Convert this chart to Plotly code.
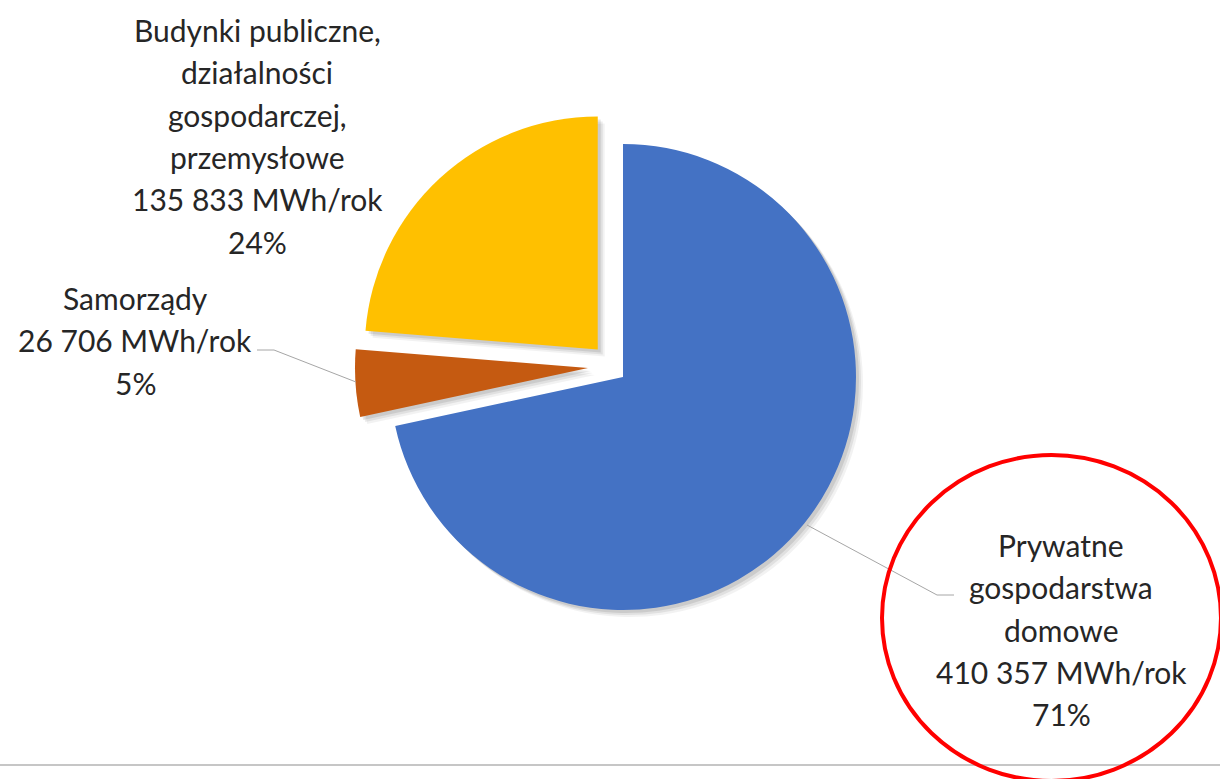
import plotly.graph_objects as go

W, H = 1220, 779

# ---- data ----
categories = ["Prywatne gospodarstwa domowe", "Samorządy",
              "Budynki publiczne, działalności gospodarczej, przemysłowe"]
values = [410357, 26706, 135833]
percent_labels = ["71%", "5%", "24%"]
value_labels = ["410 357 MWh/rok", "26 706 MWh/rok", "135 833 MWh/rok"]
name_lines = [["Prywatne", "gospodarstwa", "domowe"],
              ["Samorządy"],
              ["Budynki publiczne,", "działalności", "gospodarczej,", "przemysłowe"]]
colors = ["#4472C4", "#C55A11", "#FFC000"]
pulls = [0, 0, 0.16]

# ---- layout helpers (pixel -> paper) ----
def px(x):
    return x / W

def py(y):
    return (H - y) / H

R = 233
CX, CY = 623, 377
half = R * (1 + max(pulls))
ORANGE_SHIFT = (-35, -9)   # exploded "Samorządy" slice offset (px)

def dom(dx=0, dy=0):
    return dict(x=[px(CX - half + dx), px(CX + half + dx)],
                y=[py(CY + half + dy), py(CY - half + dy)])

def pie(cols, dx, dy, hover=True):
    return go.Pie(
        labels=categories, values=values, sort=False, direction="clockwise",
        rotation=0, pull=pulls, textinfo="none",
        hoverinfo=None if hover else "skip",
        marker=dict(colors=cols, line=dict(width=0)),
        domain=dom(dx, dy), showlegend=False)

T = "rgba(0,0,0,0)"
fig = go.Figure()

# soft drop shadow layers
for off, op in [(7, 0.05), (5, 0.07), (3, 0.09)]:
    sc = f"rgba(0,0,0,{op})"
    fig.add_trace(pie([sc, T, sc], off, off, hover=False))
    fig.add_trace(pie([T, sc, T], ORANGE_SHIFT[0] + off, ORANGE_SHIFT[1] + off, hover=False))

# main slices
fig.add_trace(pie([colors[0], T, colors[2]], 0, 0))
fig.add_trace(pie([T, colors[1], T], ORANGE_SHIFT[0], ORANGE_SHIFT[1]))

FONT = dict(family="Lato, Calibri, sans-serif", size=30, color="#262626")
LS = 42.3

label_pos = [(1061, 545), (135, 298), (257, 30)]  # center x, first-line center y
annotations = []
for i in range(3):
    lines = name_lines[i] + [value_labels[i], percent_labels[i]]
    x0, y0 = label_pos[i]
    for k, t in enumerate(lines):
        annotations.append(dict(
            x=px(x0), y=py(y0 + k * LS), xref="paper", yref="paper",
            text=t, showarrow=False, xanchor="center", yanchor="middle",
            font=FONT))

shapes = [
    # bottom separator line
    dict(type="line", xref="paper", yref="paper", x0=0, x1=1,
         y0=py(765), y1=py(765), line=dict(color="#C6C6C6", width=2)),
    # leader lines
    dict(type="path", xref="paper", yref="paper",
         path=f"M {px(257)},{py(350)} L {px(274)},{py(350)} L {px(356)},{py(382)}",
         line=dict(color="#A6A6A6", width=1)),
    dict(type="path", xref="paper", yref="paper",
         path=f"M {px(807)},{py(525)} L {px(937)},{py(595)} L {px(954)},{py(595)}",
         line=dict(color="#A6A6A6", width=1)),
    # red highlight ellipse
    dict(type="circle", xref="paper", yref="paper",
         x0=px(882), x1=px(1221), y0=py(781), y1=py(455),
         line=dict(color="#FF0000", width=4), fillcolor="rgba(0,0,0,0)"),
]

fig.update_layout(
    width=W, height=H, margin=dict(l=0, r=0, t=0, b=0),
    paper_bgcolor="white", plot_bgcolor="white",
    annotations=annotations, shapes=shapes, showlegend=False)

fig.write_html("out.html")
